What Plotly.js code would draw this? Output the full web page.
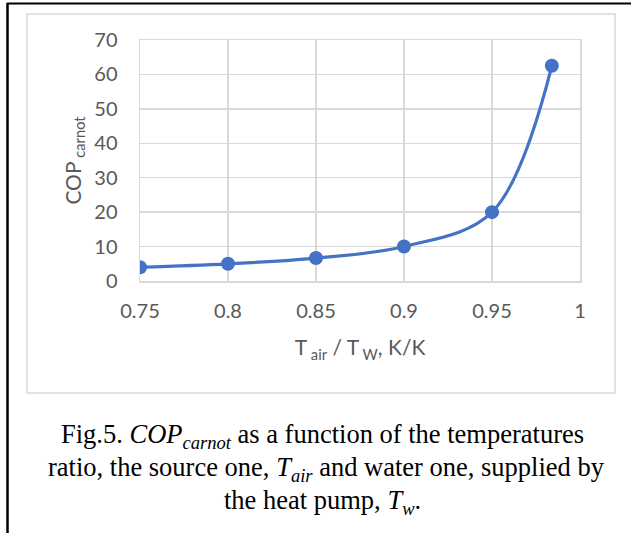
<!DOCTYPE html>
<html>
<head>
<meta charset="utf-8">
<script src="https://cdn.plot.ly/plotly-3.0.1.min.js"></script>
<style>html,body{margin:0;padding:0;background:#fff;}#chart{width:631px;height:533px;}</style>
</head>
<body>
<div id="chart"></div>
<script>
// Data
const ratio = [0.75, 0.8, 0.85, 0.9, 0.95, 0.984];
const copCarnot = [4, 5, 6.67, 10, 20, 62.5];
const xTicks = [0.75, 0.8, 0.85, 0.9, 0.95, 1];
const xTickLabels = ["0.75", "0.8", "0.85", "0.9", "0.95", "1"];
const yTicks = [0, 10, 20, 30, 40, 50, 60, 70];

const W = 631, H = 533;
const L = 140, R = 580, T = 40, B = 281;
const px = X => (X - L) / (R - L);
const py = Y => (B - Y) / (B - T);

const blue = '#4472C4';
const grid = '#d9d9d9';
const tickFont = {family: 'Lato, Carlito, sans-serif', size: 20, color: '#595959'};

const trace = {
  x: ratio, y: copCarnot, type: 'scatter', mode: 'lines+markers',
  line: {color: blue, width: 3.2, shape: 'spline', smoothing: 1},
  marker: {color: blue, size: 14},
  hoverinfo: 'skip'
};

const shapes = [
  // inner chart frame
  {type: 'rect', xref: 'paper', yref: 'paper', x0: px(27), x1: px(615), y0: py(14), y1: py(393),
   line: {color: grid, width: 1.5}, layer: 'below'},
  // outer document frame: top and left lines
  {type: 'line', xref: 'paper', yref: 'paper', x0: px(7), x1: px(631), y0: py(3.5), y1: py(3.5),
   line: {color: '#000', width: 2}},
  {type: 'line', xref: 'paper', yref: 'paper', x0: px(7.5), x1: px(7.5), y0: py(3), y1: py(533),
   line: {color: '#000', width: 2.5}}
];

const capFont = {family: '"Liberation Serif", "Times New Roman", serif', size: 26.5, color: '#000'};
const annotations = [
  {text: 'Fig.5. <i>COP<sub>carnot</sub></i> as a function of the temperatures', x: px(322), y: py(436)},
  {text: 'ratio, the source one, <i>T<sub>air</sub></i> and water one, supplied by', x: px(326), y: py(469)},
  {text: 'the heat pump, <i>T<sub>w</sub></i>.', x: px(322), y: py(502)}
].map(a => Object.assign(a, {xref: 'paper', yref: 'paper', showarrow: false, font: capFont,
  xanchor: 'center', yanchor: 'middle'}));

const layout = {
  width: W, height: H, autosize: false,
  margin: {l: L, r: W - R, t: T, b: H - B, pad: 0},
  paper_bgcolor: '#fff', plot_bgcolor: '#fff',
  showlegend: false,
  xaxis: {
    range: [0.75, 1], tickvals: xTicks, ticktext: xTickLabels,
    showgrid: true, gridcolor: grid, gridwidth: 1.5,
    showline: true, linecolor: grid, linewidth: 1.5, mirror: true,
    zeroline: false, ticks: '', tickfont: tickFont, ticklabelstandoff: 11,
    title: {text: 'T<sub> air</sub> / T<sub> W</sub>, K/K', font: {family: tickFont.family, size: 21, color: '#595959'}, standoff: 20}
  },
  yaxis: {
    range: [0, 70], tickvals: yTicks,
    showgrid: true, gridcolor: grid, gridwidth: 1.5,
    showline: true, linecolor: grid, linewidth: 1.5, mirror: true,
    zeroline: false, ticks: '', tickfont: tickFont, ticklabelstandoff: 17,
    title: {text: 'COP<sub> carnot</sub>', font: {family: tickFont.family, size: 21, color: '#595959'}, standoff: 7}
  },
  shapes: shapes,
  annotations: annotations
};

Plotly.newPlot('chart', [trace], layout, {displayModeBar: false, staticPlot: true});
</script>
</body>
</html>
